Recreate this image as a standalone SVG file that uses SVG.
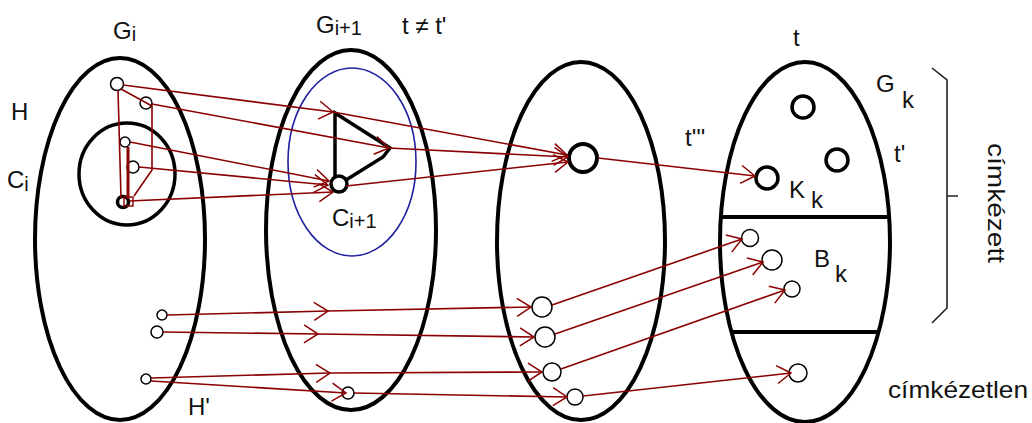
<svg xmlns="http://www.w3.org/2000/svg" width="1032" height="423" viewBox="0 0 1032 423">
<style>
.big{fill:none;stroke:#000;stroke-width:4}
.thick{fill:#fff;stroke:#000;stroke-width:3.5}
.thin{fill:none;stroke:#000;stroke-width:1.5}
.blue{fill:none;stroke:#1f1fa0;stroke-width:1.6}
.red{fill:none;stroke:#8b0000;stroke-width:1.6}
.conn line,.conn path{fill:none;stroke:#8b0000;stroke-width:1.6}
.lbl{font-family:"Liberation Sans",Arial,sans-serif;font-size:24px;fill:#111}
.sub{font-size:20px}
</style>
<defs>
<marker id="arr" viewBox="-16 -11 18 22" refX="0" refY="0" markerWidth="18" markerHeight="22" markerUnits="userSpaceOnUse" orient="auto">
<path d="M-14,-9 L0,0 L-14,9" fill="none" stroke="#8b0000" stroke-width="1.5"/>
</marker>
</defs>
<rect width="1032" height="423" fill="#fff"/>

<g id="Gi">
<ellipse class="big" cx="120" cy="239" rx="85" ry="181"/>
<ellipse id="Ci" class="big" cx="127" cy="174" rx="48" ry="51" style="stroke-width:3.5"/>
<circle id="n_a" class="thin" cx="117" cy="84" r="6.5"/>
<circle id="n_b" class="thin" cx="146" cy="103" r="6"/>
<circle id="n_c" class="thin" cx="125" cy="142" r="5"/>
<circle id="n_d" class="thin" cx="133" cy="167" r="6"/>
<circle id="n_e" class="thick" cx="123" cy="202" r="5.5"/>
<circle id="n_f" class="thin" cx="162" cy="315" r="5"/>
<circle id="n_g" class="thin" cx="157" cy="332" r="6"/>
<circle id="n_h" class="thin" cx="146" cy="379" r="5"/>
</g>

<g id="Gi1">
<ellipse class="big" cx="351" cy="230" rx="85" ry="180"/>
<ellipse id="Ci1" class="blue" cx="352" cy="162" rx="64" ry="94"/>
<path class="big" style="stroke-width:3.5" d="M335,177 V113 L390,148 L383,157 L346,180"/>
<circle id="n_ci1" class="thick" cx="339" cy="184" r="8"/>
<circle id="n_x" class="thin" cx="348" cy="393" r="6"/>
</g>

<g id="G3">
<ellipse class="big" cx="581" cy="241" rx="84" ry="179"/>
<circle id="n_t3" class="thick" cx="583" cy="158" r="14" style="stroke-width:4"/>
<circle id="n_p1" class="thin" cx="542" cy="307" r="10"/>
<circle id="n_p2" class="thin" cx="545" cy="337" r="10"/>
<circle id="n_p3" class="thin" cx="552" cy="372" r="9"/>
<circle id="n_p4" class="thin" cx="575" cy="397" r="8"/>
</g>

<g id="Gk">
<ellipse class="big" cx="805" cy="242" rx="85" ry="180"/>
<line class="big" x1="721" y1="217" x2="889" y2="217"/>
<line class="big" x1="731" y1="332" x2="879" y2="332"/>
<circle id="n_k1" class="thick" cx="803" cy="107" r="11"/>
<circle id="n_k2" class="thick" cx="837" cy="160" r="11"/>
<circle id="n_kk" class="thick" cx="767" cy="178" r="11"/>
<circle id="n_b1" class="thin" cx="750" cy="238" r="8.5"/>
<circle id="n_b2" class="thin" cx="772" cy="260" r="10"/>
<circle id="n_b3" class="thin" cx="792" cy="289" r="8"/>
<circle id="n_u1" class="thin" cx="798" cy="373" r="9"/>
</g>

<g id="bracket">
<path d="M932,68 L947,80 V308 L932,323 M947,196 H958" fill="none" stroke="#222" stroke-width="1.6"/>
</g>

<g id="connectors" class="conn">
<path d="M121,89 L152,106 L152,170 L134,196"/>
<line x1="118" y1="90" x2="121" y2="198"/>
<line x1="128" y1="147" x2="128" y2="199" style="stroke-width:3"/>
<rect x="124" y="197" width="9" height="9" fill="none" stroke="#8b0000" stroke-width="1.4"/>
<line x1="123" y1="85" x2="333" y2="112" marker-end="url(#arr)"/>
<line x1="333" y1="112" x2="567" y2="155" marker-end="url(#arr)"/>
<line x1="152" y1="104" x2="389" y2="148" marker-end="url(#arr)"/>
<line x1="389" y1="148" x2="568" y2="157" marker-end="url(#arr)"/>
<line x1="130" y1="142" x2="329" y2="181" marker-end="url(#arr)"/>
<line x1="139" y1="167" x2="328" y2="185" marker-end="url(#arr)"/>
<line x1="129" y1="201" x2="333" y2="192" marker-end="url(#arr)"/>
<line x1="346" y1="186" x2="568" y2="162" marker-end="url(#arr)"/>
<line x1="598" y1="158" x2="755" y2="176" marker-end="url(#arr)"/>
<line x1="167" y1="315" x2="328" y2="311" marker-end="url(#arr)"/>
<line x1="328" y1="311" x2="531" y2="307" marker-end="url(#arr)"/>
<line x1="163" y1="332" x2="318" y2="334" marker-end="url(#arr)"/>
<line x1="318" y1="334" x2="534" y2="337" marker-end="url(#arr)"/>
<line x1="151" y1="378" x2="330" y2="373" marker-end="url(#arr)"/>
<line x1="330" y1="373" x2="542" y2="372" marker-end="url(#arr)"/>
<line x1="151" y1="381" x2="346" y2="393" marker-end="url(#arr)"/>
<line x1="354" y1="393" x2="567" y2="397" marker-end="url(#arr)"/>
<line x1="552" y1="305" x2="742" y2="239" marker-end="url(#arr)"/>
<line x1="555" y1="334" x2="763" y2="262" marker-end="url(#arr)"/>
<line x1="561" y1="369" x2="785" y2="290" marker-end="url(#arr)"/>
<line x1="583" y1="396" x2="791" y2="373" marker-end="url(#arr)"/>
</g>

<g id="labels" class="lbl">
<text x="113" y="39">G<tspan class="sub" dy="2">i</tspan></text>
<text x="11" y="120">H</text>
<text x="7" y="188">C<tspan class="sub" dy="3">i</tspan></text>
<text x="316" y="33">G<tspan class="sub" dy="2">i+1</tspan></text>
<text x="402" y="34">t ≠ t'</text>
<text x="332" y="226">C<tspan class="sub" dy="2">i+1</tspan></text>
<text x="685" y="146">t'''</text>
<text x="793" y="46">t</text>
<text x="876" y="92">G</text>
<text x="902" y="108">k</text>
<text x="894" y="162">t'</text>
<text x="789" y="198">K</text>
<text x="811" y="208">k</text>
<text x="814" y="267">B</text>
<text x="835" y="282">k</text>
<text x="188" y="415">H'</text>
<text x="888" y="398" textLength="140" lengthAdjust="spacingAndGlyphs">címkézetlen</text>
<text transform="translate(988,143) rotate(90)" x="0" y="0" textLength="120" lengthAdjust="spacingAndGlyphs">címkézett</text>
</g>
</svg>
